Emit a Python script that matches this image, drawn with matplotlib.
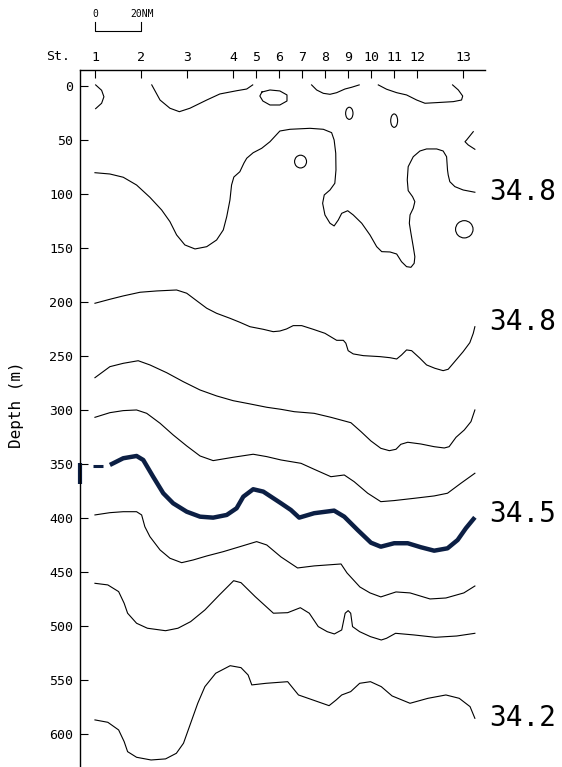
import matplotlib
matplotlib.use("Agg")
import matplotlib.pyplot as plt
from matplotlib.patches import Ellipse

plt.rcParams['font.family'] = ['DejaVu Sans Mono', 'DejaVu Sans']

# station positions along the section (NM from St.1)
stations = ['1', '2', '3', '4', '5', '6', '7', '8', '9', '10', '11', '12', '13']
station_nm = [0, 20, 40, 60, 70, 80, 90, 100, 110, 120, 130, 140, 160]
depth_ticks = [0, 50, 100, 150, 200, 250, 300, 350, 400, 450, 500, 550, 600]

# contour lines: distance (NM) and depth (m)
surf_a_x = [0.3, 2.9, 3.9, 2.9, 0.3]
surf_a_d = [-1, 4, 10, 16, 21]

surf_b_x = [24.7, 28.3, 32.6, 36.7, 41.3, 48.6, 54.3, 61.6, 66.0, 68.6]
surf_b_d = [-1, 13, 20.6, 23.8, 20.6, 13, 7.4, 4.4, 2.8, -1]

surf_c_x = [72.6, 76.1, 80.4, 83.5, 83.5, 80.4, 76.1, 73.0, 71.7, 72.6]
surf_c_d = [5.6, 3.7, 4.6, 8.3, 13.9, 17.6, 17.6, 13.9, 9.3, 5.6]

surf_d_x = [94.2, 96.4, 99.3, 102.2, 105.1, 108.7, 111.6, 114.9]
surf_d_d = [-1, 3.7, 6.8, 7.7, 6.2, 2.8, 1.2, -1]

surf_e_x = [123.2, 126.8, 131.2, 135.5, 139.9, 143.5, 148.6, 155.8, 159.4, 159.9, 158.0, 155.5]
surf_e_d = [-1, 3, 6.2, 8.3, 13, 16, 15.4, 14.5, 13, 9.3, 3.7, -1]

edge_x = [164.5, 161.6, 160.9, 162.3, 165.2]
edge_d = [42.3, 50, 51.6, 54.6, 58.6]

# small closed cells: centre and half sizes
cell_x = [110.6, 130.1, 89.4, 160.6]
cell_d = [25.3, 32.1, 70.0, 132.7]
cell_rx = [1.6, 1.5, 2.6, 3.8]
cell_rd = [5.6, 6.2, 5.9, 8.0]

s348a_x = [0, 6.5, 12.3, 18.1, 23.9, 29.0, 32.6, 35.5, 39.1, 43.5, 48.6, 52.9, 55.8, 57.3, 58.7,
           59.4, 60.4, 63.0, 64.8, 66.0, 68.8, 72.5, 76.1, 80.4, 84.8, 93.5, 99.3, 102.9, 104.0,
           104.7, 104.8, 104.3, 102.2, 99.7, 99.0, 100.0, 102.2, 104.0, 105.8, 107.3, 109.9,
           112.3, 116.0, 119.6, 122.5, 124.7, 128.3, 131.2, 133.3, 135.5, 137.4, 138.8, 139.1,
           138.4, 137.4, 136.7, 137.0, 138.4, 139.1, 138.1, 136.2, 135.8, 136.2, 138.4, 141.3,
           144.2, 148.6, 151.4, 152.9, 153.3, 153.6, 154.3, 156.5, 160.1, 165.2]
s348a_d = [80.3, 81.5, 84.5, 91.7, 103.1, 114.8, 125.6, 137.9, 147.2, 150.9, 148.8, 142.6, 133.3,
           121.0, 105.6, 91.7, 84.3, 79.4, 71.3, 66.9, 61.8, 57.7, 51.6, 41.7, 40.1, 39.2, 40.1,
           43.2, 50.0, 62.3, 77.8, 90.1, 96.3, 100.9, 108.6, 119.4, 127.1, 129.6, 124.1, 117.9,
           115.5, 119.4, 127.1, 138.0, 148.8, 153.4, 153.7, 155.6, 162.7, 167.3, 167.9, 164.2,
           158.1, 148.8, 136.4, 127.1, 119.4, 113.2, 107.1, 102.5, 96.9, 87.0, 74.7, 65.5, 60.2,
           58.3, 58.3, 60.2, 65.5, 77.8, 82.4, 88.6, 93.2, 96.3, 98.4]

s348b_x = [0, 6.5, 12.3, 19.6, 26.8, 35.5, 39.9, 44.2, 48.6, 52.9, 58.7, 63.0, 67.4, 73.2, 77.5,
           80.4, 83.3, 86.2, 89.9, 94.9, 100.0, 102.9, 105.1, 108.0, 109.1, 110.1, 112.3, 116.7,
           123.9, 128.3, 131.2, 133.3, 135.5, 137.7, 141.3, 144.2, 147.8, 151.4, 153.6, 155.8,
           160.1, 163.0, 164.5, 165.2]
s348b_d = [201.2, 197.5, 194.4, 191.0, 189.8, 188.9, 191.9, 198.8, 205.8, 210.5, 215.1, 218.8,
           222.9, 225.3, 227.5, 226.9, 225.0, 221.9, 221.9, 225.3, 229.0, 232.7, 235.5, 235.5,
           238.2, 245.1, 248.1, 249.7, 250.6, 251.6, 252.8, 249.1, 244.4, 245.1, 252.1, 258.3,
           261.4, 263.6, 262.3, 256.8, 246.0, 237.7, 229.0, 222.9]

s347_x = [0, 6.5, 12.3, 18.8, 23.9, 31.2, 38.4, 45.7, 52.9, 60.1, 67.4, 74.7, 80.9, 86.7, 95.3,
          102.6, 111.3, 115.7, 120.0, 124.3, 128.0, 130.9, 133.0, 136.0, 141.7, 147.5, 151.9,
          154.0, 157.0, 160.6, 163.5, 165.2]
s347_d = [270.1, 259.9, 256.8, 254.4, 258.3, 265.5, 273.8, 281.5, 287.0, 291.4, 294.4, 297.5,
          299.4, 301.6, 303.1, 306.8, 311.8, 320.1, 328.7, 335.5, 337.7, 336.4, 331.8, 329.9,
          331.5, 334.0, 335.2, 334.0, 325.3, 318.5, 310.8, 300.0]

s346_x = [0, 6.5, 12.3, 18.1, 22.5, 28.3, 34.0, 39.9, 45.7, 51.4, 60.1, 68.8, 74.7, 80.9, 89.6,
          95.3, 102.6, 108.4, 112.7, 118.6, 124.3, 130.1, 138.8, 147.5, 153.3, 159.1, 165.2]
s346_d = [306.8, 302.5, 300.6, 300.0, 303.1, 312.3, 323.1, 333.3, 342.6, 346.9, 343.8, 341.0,
          343.2, 346.3, 349.4, 354.9, 361.8, 360.2, 366.4, 377.1, 384.9, 383.9, 381.8, 379.6,
          377.1, 367.9, 358.6]

s345_x = [6.5, 12.3, 18.1, 21.0, 25.3, 29.7, 34.0, 39.9, 45.7, 51.4, 57.3, 61.6, 64.5, 68.8,
          73.2, 80.9, 85.2, 88.8, 95.3, 104.0, 108.4, 114.2, 120.0, 124.3, 130.1, 136.0, 141.7,
          147.5, 153.3, 157.7, 161.3, 165.2]
s345_d = [350.9, 344.7, 342.6, 346.3, 361.8, 377.1, 386.4, 394.2, 398.8, 399.7, 397.2, 391.0,
          380.3, 373.4, 375.6, 386.4, 392.6, 399.7, 395.6, 393.2, 398.8, 411.1, 422.9, 426.6,
          423.4, 423.4, 427.1, 430.3, 428.1, 420.4, 409.5, 399.4]

s344_x = [0, 6.5, 12.3, 18.1, 20.3, 21.7, 23.9, 28.3, 32.6, 37.7, 42.7, 48.6, 55.8, 63.0, 70.3,
          74.7, 80.9, 88.1, 95.3, 107.0, 109.6, 115.2, 119.6, 124.3, 130.9, 137.0, 145.7, 152.6,
          160.4, 165.2]
s344_d = [397.2, 395.1, 394.2, 394.2, 397.2, 408.1, 417.3, 429.6, 437.3, 441.4, 438.9, 435.2,
          431.2, 426.6, 421.9, 425.0, 436.1, 446.3, 444.4, 442.6, 450.9, 463.9, 469.4, 473.1,
          468.5, 469.4, 475.0, 474.1, 469.4, 463.0]

s343_x = [0, 5.6, 10.3, 12.7, 14.2, 18.1, 22.8, 30.7, 36.1, 41.6, 47.8, 54.1, 60.3, 63.5, 69.7,
          77.6, 83.8, 89.3, 93.2, 97.1, 101.0, 104.1, 107.3, 108.8, 110.1, 111.2, 112.0, 115.1,
          119.8, 124.5, 126.8, 130.7, 138.6, 148.0, 157.3, 165.2]
s343_d = [460.5, 462.0, 468.2, 479.0, 488.2, 497.5, 502.1, 504.4, 502.1, 496.0, 485.2, 471.3,
          458.1, 459.9, 472.9, 488.2, 487.7, 483.1, 488.2, 500.6, 505.3, 507.4, 503.7, 488.2,
          485.8, 488.2, 500.6, 505.3, 509.9, 513.0, 511.4, 506.8, 508.3, 510.5, 509.3, 506.8]

s342_x = [0, 5.6, 10.3, 12.7, 14.2, 18.1, 24.4, 30.7, 35.4, 38.5, 41.6, 44.7, 47.8, 52.5, 58.8,
          63.5, 66.6, 68.2, 74.4, 83.8, 88.5, 94.7, 101.8, 104.9, 107.3, 111.2, 115.1, 119.8,
          124.5, 129.2, 137.0, 144.8, 152.6, 158.4, 163.1, 165.2]
s342_d = [587.0, 589.2, 596.3, 607.1, 616.4, 621.6, 624.1, 623.1, 617.9, 608.6, 590.1, 571.6,
          556.2, 543.8, 536.8, 538.6, 545.4, 554.6, 553.1, 551.6, 563.9, 568.5, 573.8, 568.5,
          563.9, 560.8, 553.1, 551.6, 556.2, 564.8, 571.6, 567.0, 563.9, 567.0, 574.7, 585.5]

# labels at the right edge
label_text = ['34.8', '34.8', '34.5', '34.2']
label_depth = [98, 219, 396, 585]

thin_lines = [(surf_a_x, surf_a_d), (surf_b_x, surf_b_d), (surf_c_x, surf_c_d),
              (surf_d_x, surf_d_d), (surf_e_x, surf_e_d), (edge_x, edge_d),
              (s348a_x, s348a_d), (s348b_x, s348b_d), (s347_x, s347_d), (s346_x, s346_d),
              (s344_x, s344_d), (s343_x, s343_d), (s342_x, s342_d)]

navy = '#0c1f44'

fig = plt.figure(figsize=(5.62, 7.67), dpi=100)
ax = fig.add_axes([80 / 562, 0, 405 / 562, 697 / 767])

for xs, ds in thin_lines:
    ax.plot(xs, ds, color='black', lw=0.8)
ax.plot(s345_x, s345_d, color=navy, lw=3.2, solid_capstyle='butt')
ax.plot([-0.9, 3.5], [352, 352], color=navy, lw=2.2, solid_capstyle='butt')

for cx, cd, rx, rd in zip(cell_x, cell_d, cell_rx, cell_rd):
    ax.add_patch(Ellipse((cx, cd), 2 * rx, 2 * rd, fill=False, ec='black', lw=0.8))

ax.set_xlim(-6.5, 169.6)
ax.set_ylim(630.6, -14.8)

ax.xaxis.tick_top()
ax.set_xticks(station_nm)
ax.set_xticklabels(stations)
ax.set_yticks(depth_ticks)
ax.tick_params(direction='in', length=6, width=0.8, labelsize=9.5, pad=5)
ax.tick_params(axis='x', pad=4)

for side in ['right', 'bottom']:
    ax.spines[side].set_visible(False)
ax.spines['left'].set_linewidth(1.0)
ax.spines['top'].set_linewidth(1.0)

# marker of the 34.5 level on the depth axis
ax.plot([-6.5, -6.5], [349, 369], color=navy, lw=3, clip_on=False, solid_capstyle='butt')

ax.set_ylabel('Depth (m)', fontsize=11.5)
ax.yaxis.set_label_coords(-0.138, 0.52)
ax.text(-0.025, 1.0187, 'St.', transform=ax.transAxes, ha='right', va='center', fontsize=9.5)

for txt, dep in zip(label_text, label_depth):
    ax.text(1.01, dep, txt, transform=ax.get_yaxis_transform(), ha='left', va='center',
            fontsize=20, clip_on=False)

# distance scale bar
ax.plot([0, 0, 20, 20], [-59, -51, -51, -59], color='black', lw=0.8, clip_on=False)
ax.text(0, -66.5, '0', ha='center', va='center', fontsize=7)
ax.text(20.5, -66.5, '20NM', ha='center', va='center', fontsize=7)

fig.savefig('out.png', dpi=100)
